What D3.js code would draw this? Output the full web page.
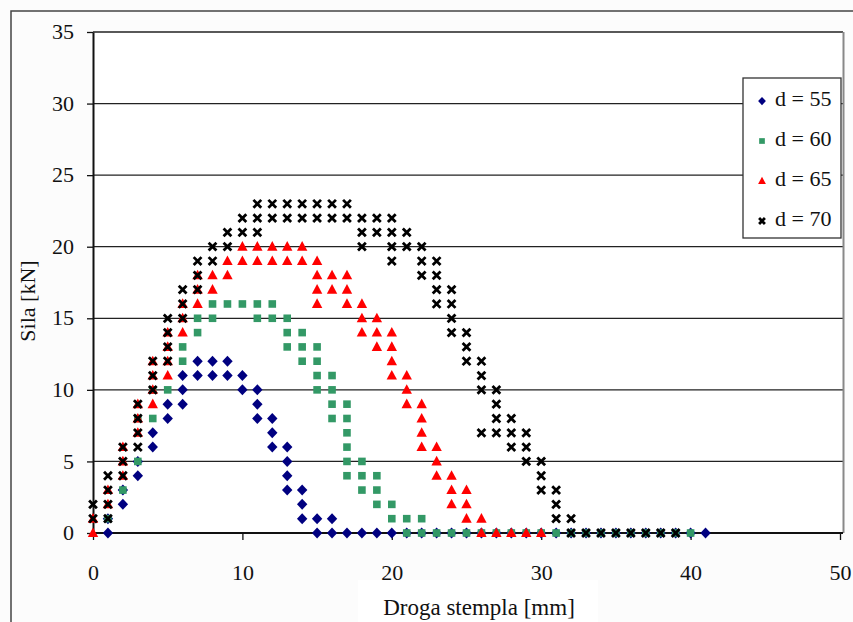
<!DOCTYPE html>
<html>
<head>
<meta charset="utf-8">
<script src="https://cdn.jsdelivr.net/npm/d3@7"></script>
<style>
body { margin: 0; background: #fff; }
svg text { font-family: "Liberation Serif", "Times New Roman", serif; fill: #111; }
</style>
</head>
<body>
<div id="chart"></div>
<script>
// data: [droga mm, sila kN]
var seriesNames = ["d = 55", "d = 60", "d = 65", "d = 70"];
var seriesColors = ["#000080", "#339966", "#ff0000", "#000000"];

var d55 = [[1,0],[1,1],[2,2],[2,3],[3,4],[3,5],[4,6],[4,7],[5,8],[5,9],[6,9],[6,10],[6,11],
  [7,11],[7,12],[8,11],[8,12],[9,11],[9,12],[10,10],[10,11],[11,8],[11,9],[11,10],
  [12,6],[12,7],[12,8],[13,3],[13,4],[13,5],[13,6],[14,1],[14,2],[14,3],[15,0],[15,1],
  [16,0],[16,1],[17,0],[18,0],[19,0],[20,0],[21,0],[22,0],[23,0],[24,0],[25,0],[26,0],
  [27,0],[28,0],[29,0],[30,0],[31,0],[32,0],[33,0],[34,0],[35,0],[36,0],[37,0],[38,0],
  [39,0],[40,0],[41,0]];

var d60 = [[1,1],[2,3],[3,5],[3,8],[4,8],[4,10],[5,10],[6,12],[6,13],[7,14],[7,15],[8,15],[8,16],
  [9,16],[10,16],[11,15],[11,16],[12,15],[12,16],[13,13],[13,14],[13,15],[14,12],[14,13],
  [14,14],[15,10],[15,11],[15,12],[15,13],[16,8],[16,9],[16,10],[16,11],[17,4],[17,5],
  [17,6],[17,7],[17,8],[17,9],[18,3],[18,4],[18,5],[19,2],[19,3],[19,4],[20,1],[20,2],
  [21,0],[21,1],[22,0],[22,1],[23,0],[24,0],[25,0],[26,0],[27,0],[28,0],[29,0],[30,0],
  [31,0],[32,0],[33,0],[34,0],[35,0],[36,0],[37,0],[38,0],[39,0],[40,0]];

var d65 = [[0,0],[0,1],[1,2],[1,3],[2,4],[2,5],[2,6],[3,7],[3,8],[3,9],[4,9],[4,10],[4,11],
  [4,12],[5,11],[5,12],[5,13],[5,14],[6,14],[6,15],[6,16],[7,16],[7,17],[7,18],[8,17],
  [8,18],[9,18],[9,19],[10,19],[10,20],[11,19],[11,20],[12,19],[12,20],[13,19],[13,20],
  [14,19],[14,20],[15,16],[15,17],[15,18],[15,19],[16,17],[16,18],[17,16],[17,17],[17,18],
  [18,14],[18,15],[18,16],[19,13],[19,14],[19,15],[20,11],[20,12],[20,13],[20,14],
  [21,9],[21,10],[21,11],[22,6],[22,7],[22,8],[22,9],[23,4],[23,5],[23,6],[24,2],[24,3],
  [24,4],[25,1],[25,2],[25,3],[26,0],[26,1],[27,0],[28,0],[29,0],[30,0]];

var d70 = [[0,1],[0,2],[1,1],[1,2],[1,3],[1,4],[2,4],[2,5],[2,6],[3,6],[3,7],[3,8],[3,9],
  [4,10],[4,11],[4,12],[5,12],[5,13],[5,14],[5,15],[6,15],[6,16],[6,17],[7,17],[7,18],
  [7,19],[8,19],[8,20],[9,20],[9,21],[10,21],[10,22],[11,21],[11,22],[11,23],[12,22],
  [12,23],[13,22],[13,23],[14,22],[14,23],[15,22],[15,23],[16,22],[16,23],[17,22],[17,23],
  [18,20],[18,21],[18,22],[19,21],[19,22],[20,19],[20,20],[20,21],[20,22],[21,20],[21,21],
  [22,18],[22,19],[22,20],[23,16],[23,17],[23,18],[23,19],[24,14],[24,15],[24,16],[24,17],
  [25,12],[25,13],[25,14],[26,7],[26,10],[26,11],[26,12],[27,7],[27,8],[27,9],[27,10],
  [28,6],[28,7],[28,8],[29,5],[29,6],[29,7],[30,3],[30,4],[30,5],[31,1],[31,2],[31,3],
  [32,0],[32,1],[33,0],[34,0],[35,0],[36,0],[37,0],[38,0],[39,0]];

var xTicks = [0, 10, 20, 30, 40, 50];
var yTicks = [0, 5, 10, 15, 20, 25, 30, 35];

var allSeries = [d55, d60, d65, d70];

var W = 853, H = 622;
var svg = d3.select("#chart").append("svg").attr("width", W).attr("height", H);

svg.append("rect").attr("width", W).attr("height", H).attr("fill", "#fcfcfc");
// outer frame (right / bottom edges fall outside the picture)
svg.append("rect").attr("x", 11).attr("y", 11).attr("width", 860).attr("height", 640)
  .attr("fill", "#fcfcfc").attr("stroke", "#444").attr("stroke-width", 1.5);

var x = d3.scaleLinear().domain([0, 50]).range([93, 840]);
var y = d3.scaleLinear().domain([0, 35]).range([533, 32]);

var plot = svg.append("g");
plot.append("rect").attr("x", x(0)).attr("y", y(35)).attr("width", x(50) - x(0) + 3)
  .attr("height", y(0) - y(35)).attr("fill", "#fff");

// gridlines
plot.selectAll("line.grid").data(yTicks.filter(function (d) { return d > 0; })).enter()
  .append("line").attr("class", "grid")
  .attr("x1", x(0)).attr("x2", x(50) + 3)
  .attr("y1", function (d) { return y(d); }).attr("y2", function (d) { return y(d); })
  .attr("stroke", "#222").attr("stroke-width", 1.3);

// right border of the plot area
plot.append("line").attr("x1", x(50) + 3.5).attr("x2", x(50) + 3.5)
  .attr("y1", y(35)).attr("y2", y(0))
  .attr("stroke", "#888").attr("stroke-width", 2);

// axes
var xAxis = d3.axisBottom(x).tickValues(xTicks).tickSize(7).tickSizeOuter(0);
var yAxis = d3.axisLeft(y).tickValues(yTicks).tickSize(6).tickSizeOuter(0);

var gx = svg.append("g").attr("transform", "translate(0," + y(0) + ")").call(xAxis);
gx.select(".domain").attr("stroke", "#111").attr("stroke-width", 2)
  .attr("d", "M" + x(0) + ",0H" + (x(50) + 3));
gx.selectAll(".tick line").attr("stroke", "#111").attr("stroke-width", 1.3);
gx.selectAll(".tick text").attr("font-size", 22).attr("y", 31).attr("dy", "0.71em")
  .attr("fill", "#111");

var gy = svg.append("g").attr("transform", "translate(" + x(0) + ",0)").call(yAxis);
gy.select(".domain").attr("stroke", "#111").attr("stroke-width", 2);
gy.selectAll(".tick line").attr("stroke", "#111").attr("stroke-width", 1.3);
gy.selectAll(".tick text").attr("font-size", 22).attr("x", -19).attr("dy", "0.3em")
  .attr("fill", "#111");

// markers
function markerPath(i, s) {
  if (i === 0) return "M0," + (-5.5 * s) + "L" + (5.2 * s) + ",0L0," + (5.5 * s) + "L" + (-5.2 * s) + ",0Z";
  if (i === 1) return "M" + (-3.8 * s) + "," + (-3.8 * s) + "h" + (7.6 * s) + "v" + (7.6 * s) + "h" + (-7.6 * s) + "Z";
  if (i === 2) return "M0," + (-5.6 * s) + "L" + (5.2 * s) + "," + (4 * s) + "L" + (-5.2 * s) + "," + (4 * s) + "Z";
  return "M" + (-3.9 * s) + "," + (-3.9 * s) + "L" + (3.9 * s) + "," + (3.9 * s) +
    "M" + (3.9 * s) + "," + (-3.9 * s) + "L" + (-3.9 * s) + "," + (3.9 * s);
}

function styleMarker(sel, i) {
  if (i === 3) {
    sel.attr("fill", "none").attr("stroke", seriesColors[i]).attr("stroke-width", 2.8);
  } else {
    sel.attr("fill", seriesColors[i]).attr("stroke", "none");
  }
}

allSeries.forEach(function (data, i) {
  var g = svg.append("g");
  var pts = g.selectAll("path").data(data).enter().append("path")
    .attr("d", markerPath(i, 1))
    .attr("transform", function (d) { return "translate(" + x(d[0]) + "," + y(d[1]) + ")"; });
  styleMarker(pts, i);
});

// legend
var leg = svg.append("g");
leg.append("rect").attr("x", 743).attr("y", 78).attr("width", 98).attr("height", 160)
  .attr("fill", "#fff").attr("stroke", "#333").attr("stroke-width", 1.3);
var items = leg.selectAll("g.item").data(seriesNames).enter().append("g")
  .attr("class", "item")
  .attr("transform", function (d, i) { return "translate(0," + (98 + i * 40) + ")"; });
items.append("path")
  .attr("d", function (d, i) { return markerPath(i, 0.75); })
  .attr("transform", "translate(762,3)")
  .each(function (d, i) { styleMarker(d3.select(this), i); });
items.append("text").attr("x", 775).attr("y", 8).attr("font-size", 22).text(function (d) { return d; });

// axis titles
svg.append("rect").attr("x", 358).attr("y", 580).attr("width", 240).attr("height", 42).attr("fill", "#fff");
svg.append("text").attr("x", 479).attr("y", 615).attr("text-anchor", "middle")
  .attr("font-size", 23).text("Droga stempla [mm]");
svg.append("text").attr("transform", "translate(35,301) rotate(-90)")
  .attr("text-anchor", "middle").attr("font-size", 22).text("Sila [kN]");
</script>
</body>
</html>
